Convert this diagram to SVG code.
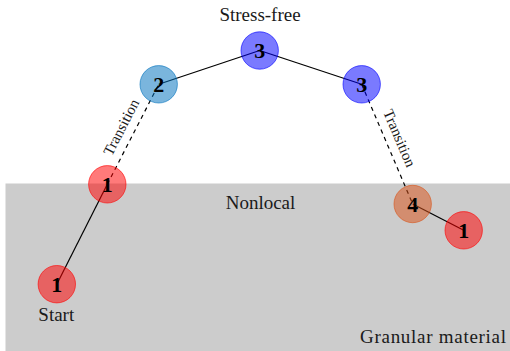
<svg xmlns="http://www.w3.org/2000/svg" width="510" height="351" viewBox="0 0 510 351">
  <style>
    .lbl { font-family: "Liberation Serif", "Times New Roman", serif; font-size: 19px; fill: #1a1a1a; text-anchor: middle; }
    .tr { font-family: "Liberation Serif", "Times New Roman", serif; font-size: 15px; fill: #1a1a1a; text-anchor: middle; }
    .num { font-family: "Liberation Serif", "Times New Roman", serif; font-size: 22px; font-weight: bold; fill: #000; text-anchor: middle; }
    .edge { stroke: #000; stroke-width: 1.2; fill: none; }
    .dash { stroke-dasharray: 4.2 4; }
    .node { stroke-width: 1; fill-opacity: 0.52; stroke-opacity: 0.6; }
    .red { fill: #ff0000; stroke: #ff0000; }
    .sky { fill: #0072bd; stroke: #0072bd; }
    .blue { fill: #0000ff; stroke: #0000ff; }
    .orange { fill: #d95319; stroke: #d95319; }
  </style>

  <!-- granular region -->
  <rect x="5.5" y="183.5" width="504.5" height="167.5" fill="#cccccc"/>

  <!-- connectors -->
  <g id="connectors">
    <line class="edge" x1="56.8" y1="284.2" x2="107.3" y2="184.3"/>
    <line class="edge dash" x1="107.3" y1="184.3" x2="158.7" y2="84.3"/>
    <line class="edge" x1="158.7" y1="84.3" x2="259.7" y2="50.5"/>
    <line class="edge" x1="259.7" y1="50.5" x2="361.7" y2="84.3"/>
    <line class="edge dash" x1="361.7" y1="84.3" x2="412.7" y2="204"/>
    <line class="edge" x1="412.7" y1="204" x2="463.7" y2="230.3"/>
  </g>

  <!-- nodes -->
  <g id="start">
    <circle class="node red" cx="56.8" cy="284.2" r="18.7"/>
    <text class="num" x="56.8" y="291.7">1</text>
  </g>
  <g id="edge-node">
    <circle class="node red" cx="107.3" cy="184.3" r="18.7"/>
    <text class="num" x="107.3" y="191.8">1</text>
  </g>
  <g id="node-2">
    <circle class="node sky" cx="158.7" cy="84.3" r="18.7"/>
    <text class="num" x="158.7" y="91.8">2</text>
  </g>
  <g id="node-3-top">
    <circle class="node blue" cx="259.7" cy="50.5" r="18.7"/>
    <text class="num" x="259.7" y="58">3</text>
  </g>
  <g id="node-3-right">
    <circle class="node blue" cx="361.7" cy="84.3" r="18.7"/>
    <text class="num" x="361.7" y="91.8">3</text>
  </g>
  <g id="node-4">
    <circle class="node orange" cx="412.7" cy="204" r="18.7"/>
    <text class="num" x="412.7" y="211.5">4</text>
  </g>
  <g id="end">
    <circle class="node red" cx="463.7" cy="230.3" r="18.7"/>
    <text class="num" x="463.7" y="237.8">1</text>
  </g>

  <!-- labels -->
  <text class="lbl" x="260" y="21">Stress-free</text>
  <text class="lbl" x="260.5" y="209">Nonlocal</text>
  <text class="lbl" x="56.3" y="321">Start</text>
  <text class="lbl" x="433" y="342.5" textLength="146">Granular material</text>
  <text class="tr" transform="translate(125.6 129.5) rotate(-62.8)">Transition</text>
  <text class="tr" transform="translate(394.9 140.1) rotate(67)">Transition</text>
</svg>
